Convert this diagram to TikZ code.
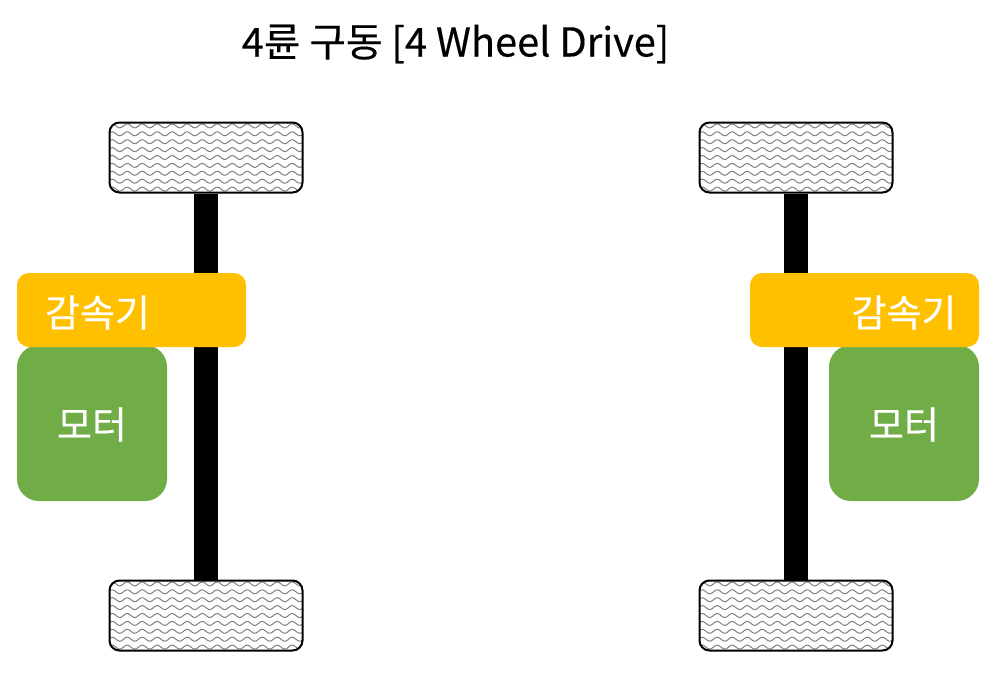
\documentclass[tikz,border=0pt]{standalone}
\usepackage{fontspec}
\setmainfont{Noto Sans CJK KR}
\newfontfamily\heavyfont[FakeBold=0.4]{Noto Sans CJK KR}
\definecolor{gearc}{HTML}{FFC000}
\definecolor{motorc}{HTML}{70AD47}
\tikzset{x=1pt,y=-1pt,
  wheelbox/.style={draw=black,line width=2pt,rounded corners=10pt,minimum width=193pt,minimum height=70pt,inner sep=0pt},
  axle/.style={line width=24pt,black,line cap=butt},
  gearbox/.style={fill=gearc,rounded corners=12pt,minimum width=229pt,minimum height=74pt,inner sep=0pt},
  motorbox/.style={fill=motorc,rounded corners=22pt,minimum width=150pt,minimum height=156pt,inner sep=0pt},
  lbl/.style={text=white,font=\heavyfont\fontsize{38}{44}\selectfont,inner sep=0pt},
  wave/.style={line width=1pt,black!50}
}
\newcommand{\wavefill}[2]{%
  \begin{scope}
    \clip[rounded corners=10pt] (#1-96.5,#2-35) rectangle (#1+96.5,#2+35);
    \foreach \r in {-4,...,4}{
      \draw[wave] plot[domain=-100:100,samples=120] ({#1+\x},{#2+\r*7.9+2*sin(\x*24)});
    }
  \end{scope}}
\begin{document}
\begin{tikzpicture}
\useasboundingbox (0,0) rectangle (993,673);
\node[inner sep=0pt,font=\heavyfont\fontsize{39.8}{46}\selectfont] (title) at (455.5,44) {4륜 구동 [4 Wheel Drive]};
% left
\wavefill{206}{157.5}
\wavefill{206}{615.5}
\node[wheelbox] (wlt) at (206,157.5) {};
\node[wheelbox] (wlb) at (206,615.5) {};
\draw[axle] (wlt) -- (wlb);
\node[motorbox] (ml) at (92,423) {};
\node[lbl] (mll) at (92,424.5) {모터};
\node[gearbox] (gl) at (131.5,310) {};
\node[lbl] (gll) at (97.5,312.5) {감속기};
% right
\wavefill{796}{157.5}
\wavefill{796}{615.5}
\node[wheelbox] (wrt) at (796,157.5) {};
\node[wheelbox] (wrb) at (796,615.5) {};
\draw[axle] (wrt) -- (wrb);
\node[motorbox] (mr) at (904,423) {};
\node[lbl] (mrl) at (904,424.5) {모터};
\node[gearbox] (gr) at (864.5,310) {};
\node[lbl] (grl) at (904,312.5) {감속기};
\end{tikzpicture}
\end{document}
